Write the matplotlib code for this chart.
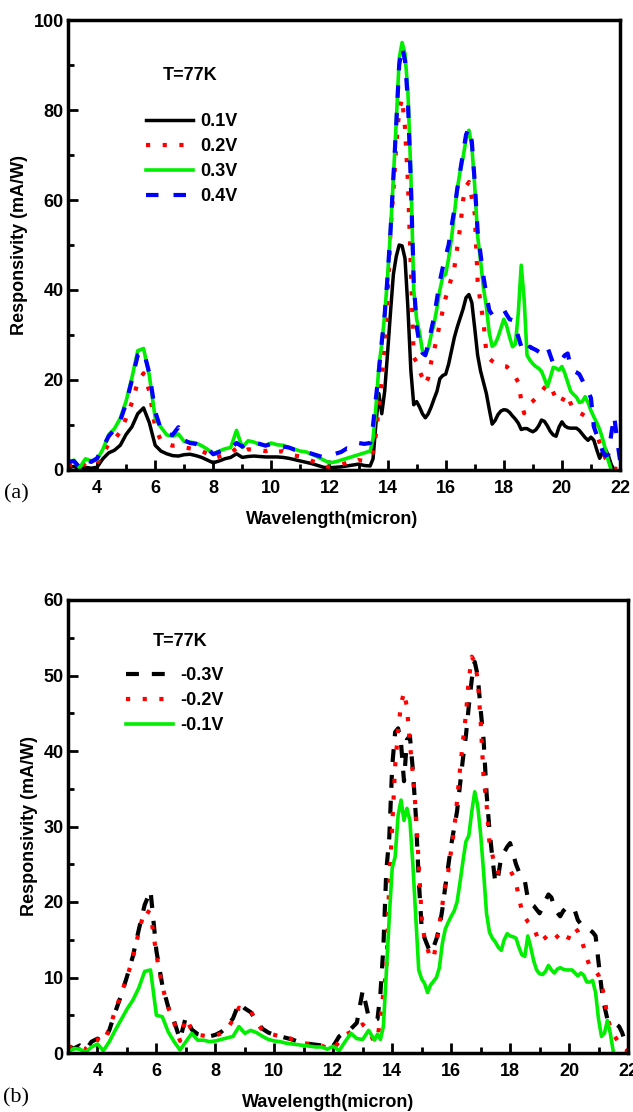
import numpy as np
import matplotlib
matplotlib.use('Agg')
import matplotlib.pyplot as plt

plt.rcParams['font.family'] = ['Liberation Sans', 'DejaVu Sans']
plt.rcParams['font.weight'] = 'bold'

# wavelength sampling (micron): coarse below 13.5, fine above
wl_low = np.round(np.arange(3.0, 13.41, 0.2), 1)
wl_high = np.round(np.arange(13.5, 22.01, 0.1), 1)
wavelength = np.concatenate([wl_low, wl_high])
nan = np.nan

# ---------------- panel (a): positive bias ----------------
a_01v = [0.5, 0.8, 0.2, 0.6, 0.4, 0.6, 2.5, 3.8, 4.4, 5.5,
         7.9, 9.6, 12.5, 13.8, 10.5, 5.5, 4.2, 3.6, 3.2, 3.1,
         3.4, 3.5, 3.2, 2.8, 2.2, 1.6, 2.0, 2.5, 2.8, 3.6,
         2.8, 3.0, 3.1, 3.0, 2.9, 2.9, 2.9, 2.8, 2.6, 2.3,
         2.0, 1.7, 1.4, 1.0, 0.6, 0.5, 0.6, 0.7, 0.9, 1.1,
         1.3, 1.0, 0.9] + \
        [2.5, 10.4, 17.0, 12.5, 17.5, 26.0, 35.0, 43.5, 47.5, 50.0,
         49.8, 47.0, 36.0, 22.2, 14.5, 15.2, 14.0, 12.5, 11.6, 12.5,
         14.0, 15.8, 17.5, 20.3, 21.0, 21.3, 23.5, 26.5, 29.5, 31.8,
         33.8, 35.8, 38.3, 39.0, 37.2, 31.5, 25.5, 22.0, 19.5, 17.0,
         13.5, 10.2, 11.0, 12.3, 13.1, 13.4, 13.3, 12.8, 12.0, 11.3,
         10.4, 9.0, 9.2, 9.2, 8.8, 8.5, 8.9, 9.8, 11.1, 10.8,
         9.8, 8.6, 7.8, 7.5, 9.5, 10.7, 9.8, 9.4, 9.3, 9.3,
         9.3, 8.8, 8.0, 7.2, 6.6, 7.3, 6.6, 4.5, 2.6, 4.0,
         4.6, 3.2, 1.2, 0.0, nan, nan]

a_02v = [1.0, 1.2, 0.3, 1.6, 1.2, 1.5, 3.5, 5.8, 6.8, 8.5,
         11.5, 15.0, 19.5, 21.5, 17.5, 9.5, 6.5, 5.8, 5.4, 5.5,
         5.0, 4.8, 4.6, 4.2, 3.6, 2.6, 3.0, 3.5, 3.8, 4.8,
         4.0, 4.6, 4.5, 4.4, 4.2, 4.6, 4.0, 4.2, 3.6, 3.2,
         3.0, 2.6, 2.0, 1.6, 1.0, 0.6, 0.8, 1.2, 1.6, 1.5,
         2.2, 2.0, 3.0] + \
        [4.0, 8.0, 14.0, 20.0, 28.0, 38.0, 53.0, 62.0, 72.0, 80.0,
         82.5, 76.0, 64.0, 45.0, 25.0, 24.0, 22.0, 20.5, 19.0, 20.5,
         24.0, 26.5, 29.5, 32.5, 35.5, 38.3, 40.5, 42.7, 45.0, 49.5,
         54.0, 60.0, 63.0, 64.0, 60.5, 57.0, 42.0, 37.0, 33.0, 26.0,
         24.8, 24.2, 23.8, 23.5, 23.3, 23.1, 23.0, 22.3, 21.6, 20.6,
         19.5, 15.5, 12.6, 13.8, 14.8, 15.3, 15.9, 16.5, 17.3, 18.3,
         19.0, 18.8, 17.3, 15.8, 14.9, 15.2, 16.5, 16.8, 14.8, 13.6,
         13.2, 12.7, 12.4, 12.0, 11.7, 10.8, 10.0, 8.0, 6.0, 4.2,
         2.6, 1.6, 0.8, 0.4, 0.2, nan]

a_03v = [1.5, 2.2, 0.5, 2.5, 2.0, 2.3, 4.6, 7.8, 9.2, 11.5,
         15.3, 20.5, 26.5, 27.0, 21.0, 11.6, 9.5, 7.8, 7.5, 8.0,
         6.3, 6.2, 6.0, 5.4, 4.6, 3.6, 4.2, 4.7, 5.0, 8.8,
         5.0, 6.5, 6.2, 5.7, 5.5, 6.0, 5.6, 5.5, 5.0, 4.6,
         4.2, 4.0, 3.5, 2.9, 2.2, 1.6, 1.8, 2.2, 2.6, 3.0,
         3.4, 3.8, 4.2] + \
        [7.0, 14.0, 23.0, 28.0, 34.5, 43.0, 53.0, 65.0, 77.5, 91.5,
         95.0, 92.5, 84.0, 66.0, 40.0, 33.5, 30.5, 26.5, 25.5, 27.0,
         30.0, 32.5, 36.0, 40.0, 43.0, 43.5, 47.0, 51.5, 57.0, 62.5,
         66.5, 69.5, 73.5, 75.5, 72.0, 63.0, 52.0, 46.5, 40.5, 36.3,
         30.5, 27.5, 28.0, 29.5, 31.5, 33.5, 32.0, 29.5, 27.4, 28.0,
         35.0, 45.5, 38.0, 25.5, 24.4, 23.6, 23.0, 22.6, 21.9, 20.3,
         18.5, 20.5, 22.8, 22.6, 22.2, 23.0, 21.5, 19.5, 17.5, 16.8,
         16.2, 15.0, 15.2, 16.3, 15.0, 13.2, 11.8, 10.5, 9.0, 7.0,
         4.5, 2.0, 0.0, nan, nan, nan]

a_04v = [1.8, 2.0, 0.6, 2.2, 1.8, 2.6, 5.0, 7.5, 9.0, 11.0,
         14.8, 20.0, 25.5, 26.5, 21.5, 13.0, 9.0, 8.0, 7.8, 9.5,
         6.6, 6.0, 5.8, 5.2, 4.8, 3.5, 4.0, 4.5, 4.8, 6.0,
         5.2, 6.2, 6.0, 5.8, 5.4, 5.8, 6.2, 5.2, 5.0, 4.5,
         4.4, 4.0, 3.6, 3.2, 2.8, 3.1, 3.6, 4.0, 4.8, 4.6,
         6.0, 5.8, 6.0] + \
        [10.0, 16.0, 22.0, 28.5, 34.5, 43.0, 53.0, 65.0, 77.0, 90.0,
         94.0, 91.0, 82.0, 64.0, 42.0, 32.0, 28.0, 26.0, 25.5, 28.0,
         31.0, 34.0, 38.0, 42.0, 45.0, 47.5, 50.0, 54.0, 58.0, 62.5,
         66.5, 70.5, 74.5, 76.0, 73.0, 64.0, 53.0, 48.0, 43.0, 39.0,
         35.5, 34.5, 34.5, 34.5, 35.0, 35.6, 34.5, 33.5, 33.3, 31.5,
         29.6, 27.5, 25.9, 26.5, 27.4, 27.0, 26.7, 26.3, 25.9, 26.5,
         27.4, 25.5, 23.7, 23.7, 23.7, 24.5, 25.5, 25.9, 23.0, 22.0,
         21.7, 21.3, 20.0, 18.5, 17.5, 16.0, 9.6, 7.8, 6.0, 4.2,
         3.2, 3.5, 8.0, 12.0, 6.7, 2.2]

# ---------------- panel (b): negative bias ----------------
b_m03v = [0.8, 0.6, 1.0, 0.4, 1.5, 1.9, 1.5, 3.0, 5.4, 7.6,
          10.1, 12.8, 16.3, 19.6, 21.5, 13.5, 9.0, 6.1, 4.2, 1.8,
          4.8, 3.1, 2.5, 2.3, 2.2, 2.4, 2.8, 3.5, 4.6, 6.6,
          5.9, 5.4, 4.2, 3.2, 2.7, 2.4, 2.2, 2.0, 1.8, 1.5,
          1.3, 1.2, 1.1, 1.0, 0.7, 0.9, 2.2, 2.8, 3.2, 4.0,
          8.3, 4.8, 4.3] + \
         [4.5, 7.9, 14.0, 24.2, 28.5, 38.0, 42.5, 43.0, 41.0, 36.0,
          41.5, 42.0, 37.5, 31.5, 23.0, 16.5, 15.2, 14.2, 13.3, 14.0,
          15.1, 16.6, 19.0, 22.0, 24.8, 27.5, 29.8, 32.0, 35.5, 39.0,
          42.0, 46.0, 49.5, 51.8, 50.0, 45.5, 41.5, 34.5, 29.5, 25.8,
          22.5, 23.5, 26.0, 26.6, 27.3, 27.8, 26.4, 25.0, 24.0, 23.5,
          22.8, 20.5, 19.8, 19.5, 19.0, 18.5, 19.3, 20.2, 21.0, 20.6,
          19.4, 18.6, 18.1, 18.8, 19.2, 19.4, 19.2, 18.8, 17.6, 17.1,
          16.9, 16.6, 16.3, 16.0, 15.5, 12.0, 8.6, 6.2, 4.5, 4.1,
          4.0, 3.8, 3.5, 2.7, 1.5, 0.2]

b_m02v = [0.9, 0.7, 0.9, 0.5, 1.6, 1.8, 1.4, 3.2, 5.6, 7.8,
          10.0, 12.6, 16.0, 19.0, 18.5, 13.0, 8.8, 6.0, 4.0, 1.6,
          4.6, 3.0, 2.4, 2.3, 2.2, 2.3, 2.6, 3.2, 4.4, 6.0,
          5.6, 5.6, 4.0, 3.0, 2.6, 2.4, 2.2, 2.2, 1.8, 1.5,
          1.3, 1.2, 1.1, 1.0, 0.6, 0.5, 1.5, 2.4, 2.8, 3.2,
          3.8, 2.8, 1.5] + \
         [2.0, 4.5, 8.0, 11.0, 22.5, 30.0, 38.0, 42.8, 46.2, 47.8,
          45.8, 41.0, 37.0, 32.0, 25.0, 18.0, 15.0, 13.8, 12.5, 12.6,
          14.5, 17.0, 19.6, 22.3, 24.0, 26.9, 29.5, 33.4, 37.6, 41.3,
          44.8, 49.5, 52.5, 51.8, 49.5, 44.0, 36.5, 33.0, 27.8, 26.2,
          24.6, 23.9, 23.8, 23.8, 24.0, 24.2, 23.5, 22.5, 20.6, 18.8,
          18.0, 17.4, 17.0, 16.6, 15.6, 14.6, 15.0, 15.3, 15.7, 16.1,
          15.9, 15.4, 15.0, 14.8, 14.6, 15.4, 16.5, 16.6, 16.1, 15.2,
          14.0, 12.6, 11.5, 11.2, 10.8, 10.3, 9.0, 7.5, 4.7, 3.4,
          2.5, 1.9, 1.3, 0.9, 0.5, 0.2]

b_m01v = [0.1, 0.6, 0.5, 0.1, 0.8, 1.2, 0.3, 1.5, 3.0, 4.4,
          5.8, 7.0, 8.6, 10.8, 11.0, 5.0, 4.8, 2.8, 1.5, 0.4,
          1.5, 2.6, 1.7, 1.7, 1.5, 1.6, 1.8, 2.0, 2.2, 3.5,
          2.6, 3.0, 2.7, 2.2, 1.8, 1.6, 1.5, 1.3, 1.2, 1.1,
          1.0, 0.9, 0.8, 0.8, 0.5, 0.9, 0.3, 1.5, 2.6, 1.9,
          1.8, 3.0, 1.7] + \
         [2.5, 1.8, 3.5, 10.6, 18.0, 24.5, 26.0, 31.5, 33.5, 30.8,
          32.4, 30.8, 25.0, 18.0, 11.0, 9.8, 9.2, 8.0, 9.0, 9.5,
          10.0, 11.3, 14.5, 16.4, 17.3, 18.1, 18.8, 20.0, 22.6, 25.4,
          28.0, 28.8, 32.0, 34.6, 32.8, 29.0, 24.0, 18.5, 16.0, 15.2,
          14.7, 14.0, 13.6, 15.0, 15.8, 15.5, 15.4, 15.2, 14.0, 13.0,
          12.8, 15.5, 14.0, 12.2, 11.0, 10.5, 10.4, 10.8, 11.6, 11.0,
          10.6, 11.1, 11.3, 11.1, 11.0, 11.0, 11.0, 10.6, 10.2, 10.6,
          10.3, 9.4, 9.4, 9.6, 8.0, 4.5, 2.2, 2.6, 4.3, 2.6,
          0.2, nan, nan, nan, nan, nan]

dotted = (0, (1, 3))


def style_axes(ax, ymax, ystep):
    ax.set_xlim(3, 22)
    ax.set_ylim(0, ymax)
    ax.set_xticks(range(4, 23, 2))
    ax.set_xticks(range(3, 23), minor=True)
    ax.set_yticks(np.arange(0, ymax + 1, ystep))
    ax.set_yticks(np.arange(ystep / 2, ymax, ystep), minor=True)
    ax.tick_params(which='both', direction='in', width=2, top=False, right=False, labelsize=13)
    ax.tick_params(which='major', length=7)
    ax.tick_params(which='minor', length=4)
    ax.tick_params(axis='x', which='major', pad=7)
    ax.tick_params(axis='y', which='major', pad=3)
    for s in ax.spines.values():
        s.set_linewidth(2.5)
    ax.set_xlabel('Wavelength(micron)', fontsize=13, fontweight='bold', labelpad=8)
    ax.set_ylabel('Responsivity (mA/W)', fontsize=13, fontweight='bold', labelpad=4)


fig = plt.figure(figsize=(6.33, 11.12), dpi=100)
ax1 = fig.add_axes([68 / 633, 1 - 470 / 1112, 552 / 633, 450 / 1112])
ax2 = fig.add_axes([68 / 633, 1 - 1053 / 1112, 560 / 633, 453 / 1112])

# panel (a)
ax1.plot(wavelength, a_01v, color='black', lw=2.5, label='0.1V')
ax1.plot(wavelength, a_02v, color='red', lw=3, linestyle=dotted, label='0.2V')
ax1.plot(wavelength, a_03v, color='#00ee00', lw=2.6, label='0.3V')
ax1.plot(wavelength, a_04v, color='blue', lw=3, linestyle=(0, (3, 3.6)), label='0.4V')
style_axes(ax1, 100, 20)
ax1.xaxis.set_label_coords(0.478, -0.09)
ax1.text(190 / 633, 1 - 75 / 1112, 'T=77K', transform=fig.transFigure,
         ha='center', va='center', fontsize=13, fontweight='bold')
ax1.legend(loc='upper left', bbox_to_anchor=(146 / 633, 1 - 113 / 1112),
           bbox_transform=fig.transFigure, frameon=False, fontsize=13,
           handlelength=2.6, handletextpad=0.4, labelspacing=0.45,
           borderpad=0, borderaxespad=0)
fig.text(16 / 633, 1 - 494 / 1112, '(a)', ha='center', va='center',
         fontsize=16, family='Liberation Serif', fontweight='normal')

# panel (b)
ax2.plot(wavelength, b_m03v, color='black', lw=3, linestyle=(0, (3.1, 3.1)), label='-0.3V')
ax2.plot(wavelength, b_m02v, color='red', lw=3, linestyle=dotted, label='-0.2V')
ax2.plot(wavelength, b_m01v, color='#00ee00', lw=2.6, label='-0.1V')
style_axes(ax2, 60, 10)
ax2.xaxis.set_label_coords(0.464, -0.09)
ax2.text(180 / 633, 1 - 642 / 1112, 'T=77K', transform=fig.transFigure,
         ha='center', va='center', fontsize=13, fontweight='bold')
ax2.legend(loc='upper left', bbox_to_anchor=(126 / 633, 1 - 667 / 1112),
           bbox_transform=fig.transFigure, frameon=False, fontsize=13,
           handlelength=2.6, handletextpad=0.4, labelspacing=0.45,
           borderpad=0, borderaxespad=0)
fig.text(16 / 633, 1 - 1098 / 1112, '(b)', ha='center', va='center',
         fontsize=16, family='Liberation Serif', fontweight='normal')

fig.savefig('out.png', dpi=100, facecolor='white')
